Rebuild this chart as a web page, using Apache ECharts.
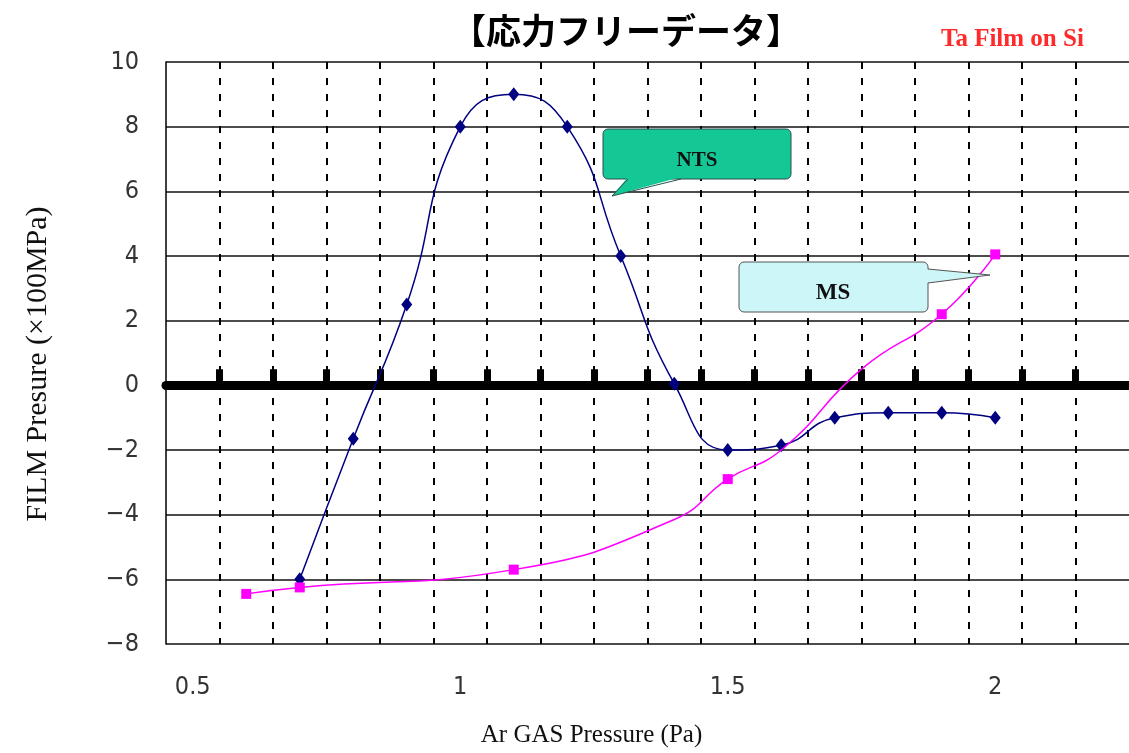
<!DOCTYPE html>
<html>
<head>
<meta charset="utf-8">
<script src="https://cdn.jsdelivr.net/npm/echarts@6/dist/echarts.min.js"></script>
<style>
html,body{margin:0;padding:0;background:#fff;}
#chart{width:1129px;height:753px;}
</style>
</head>
<body>
<div id="chart"></div>
<script>
// ---- data ----
var ntsX = [0.7, 0.8, 0.9, 1.0, 1.1, 1.2, 1.3, 1.4, 1.5, 1.6, 1.7, 1.8, 1.9, 2.0];
var ntsY = [-6, -1.65, 2.5, 8, 9, 8, 4, 0.05, -2, -1.85, -1, -0.85, -0.85, -1];

var msX = [0.6, 0.7, 1.1, 1.4, 1.5, 1.6, 1.75, 1.9, 2.0];
var msY = [-6.45, -6.25, -5.7, -4.15, -2.9, -2.0, 0.5, 2.2, 4.05];
var msMarked = [true, true, true, false, true, false, false, true, true];

var xLabelValues = [0.5, 1, 1.5, 2];
var xGridValues = [0.55, 0.65, 0.75, 0.85, 0.95, 1.05, 1.15, 1.25, 1.35, 1.45, 1.55, 1.65, 1.75, 1.85, 1.95, 2.05, 2.15];

var titleText = '【応力フリーデータ】';
var subText = 'Ta Film on Si';
var xName = 'Ar GAS Pressure (Pa)';
var yName = 'FILM Presure (×100MPa)';
var ntsName = 'NTS';
var msName = 'MS';

// ---- build ----
var ntsData = ntsX.map(function (x, i) { return [x, ntsY[i]]; });
var msData = msX.map(function (x, i) {
  var d = { value: [x, msY[i]] };
  if (!msMarked[i]) d.symbol = 'none';
  return d;
});

var numFont = "'Liberation Sans Narrow','DejaVu Sans Condensed','Arial Narrow',Arial,sans-serif";
var serif = "'Liberation Serif','Times New Roman',serif";
function minusFmt(v) { return String(v).replace('-', '\u2212'); }

var chart = echarts.init(document.getElementById('chart'), null, { renderer: 'canvas' });
chart.setOption({
  animation: false,
  backgroundColor: '#ffffff',
  title: [
    { text: titleText, left: 446, top: 8,
      textStyle: { fontFamily: "'Noto Sans CJK JP',sans-serif", fontSize: 35, fontWeight: 'bold', color: '#000' } },
    { text: subText, left: 936, top: 22,
      textStyle: { fontFamily: serif, fontSize: 25, fontWeight: 'bold', color: '#ff2a2a' } }
  ],
  grid: { left: 166, top: 62, width: 967, height: 586, containLabel: false },
  xAxis: [
    {
      type: 'value', min: 0.45, max: 2.25, position: 'bottom',
      axisLine: { show: false, onZero: false },
      axisTick: { show: false, customValues: xGridValues },
      axisLabel: { customValues: xLabelValues, margin: 31, fontFamily: numFont, fontSize: 25, color: '#333' },
      splitLine: { show: true, lineStyle: { color: '#000', width: 2, type: [7, 9] } },
      name: xName, nameLocation: 'middle', nameGap: 79,
      nameTextStyle: { fontFamily: serif, fontSize: 25, color: '#111', padding: [0, 112, 0, 0] }
    },
    {
      type: 'value', min: 0.45, max: 2.25, position: 'bottom',
      axisLine: { show: true, onZero: true, lineStyle: { color: '#000', width: 9 } },
      axisTick: { show: true, inside: true, length: 16, customValues: xGridValues, lineStyle: { color: '#000', width: 7 } },
      axisLabel: { show: false },
      splitLine: { show: false }
    }
  ],
  yAxis: {
    type: 'value', min: -8, max: 10, interval: 2,
    axisLine: { show: true, lineStyle: { color: '#000', width: 1.5 } },
    axisTick: { show: false },
    axisLabel: { margin: 27, fontFamily: numFont, fontSize: 25, color: '#333', formatter: minusFmt },
    splitLine: { show: true, lineStyle: { color: '#111', width: 1.5, type: 'solid' } },
    name: yName, nameLocation: 'middle', nameGap: 113,
    nameTextStyle: { fontFamily: serif, fontSize: 30, color: '#111', padding: [0, 22, 0, 0] }
  },
  series: [
    {
      name: ntsName, type: 'line', xAxisIndex: 0, data: ntsData, smooth: 0.5,
      symbol: 'diamond', symbolSize: [11, 14],
      lineStyle: { color: '#000080', width: 1.5 },
      itemStyle: { color: '#000080' }, z: 3
    },
    {
      name: msName, type: 'line', xAxisIndex: 0, data: msData, smooth: 0.5,
      symbol: 'rect', symbolSize: 10,
      lineStyle: { color: '#ff00ff', width: 1.5 },
      itemStyle: { color: '#ff00ff' }, z: 4
    }
  ],
  graphic: [
    { type: 'rect', shape: { x: 603, y: 129, width: 188, height: 50, r: 5 },
      style: { fill: '#14c896', stroke: '#2f4f4f', lineWidth: 1 }, z: 100 },
    { type: 'polygon', shape: { points: [[628, 177], [612, 196], [681, 177]] },
      style: { fill: '#14c896' }, z: 101 },
    { type: 'polyline', shape: { points: [[628, 179], [612, 196], [681, 179]] },
      style: { stroke: '#2f4f4f', lineWidth: 1, fill: null }, z: 101 },
    { type: 'text', x: 697, y: 161,
      style: { text: ntsName, fill: '#111', font: 'bold 21px ' + serif, textAlign: 'center', textVerticalAlign: 'middle' }, z: 102 },

    { type: 'rect', shape: { x: 739, y: 262, width: 189, height: 50, r: 5 },
      style: { fill: '#cdf6f8', stroke: '#555', lineWidth: 1 }, z: 100 },
    { type: 'polygon', shape: { points: [[926, 269], [990, 275], [926, 283]] },
      style: { fill: '#cdf6f8' }, z: 101 },
    { type: 'polyline', shape: { points: [[928, 269], [990, 275], [928, 283]] },
      style: { stroke: '#555', lineWidth: 1, fill: null }, z: 101 },
    { type: 'text', x: 833, y: 293,
      style: { text: msName, fill: '#111', font: 'bold 23px ' + serif, textAlign: 'center', textVerticalAlign: 'middle' }, z: 102 }
  ]
});
</script>
</body>
</html>
